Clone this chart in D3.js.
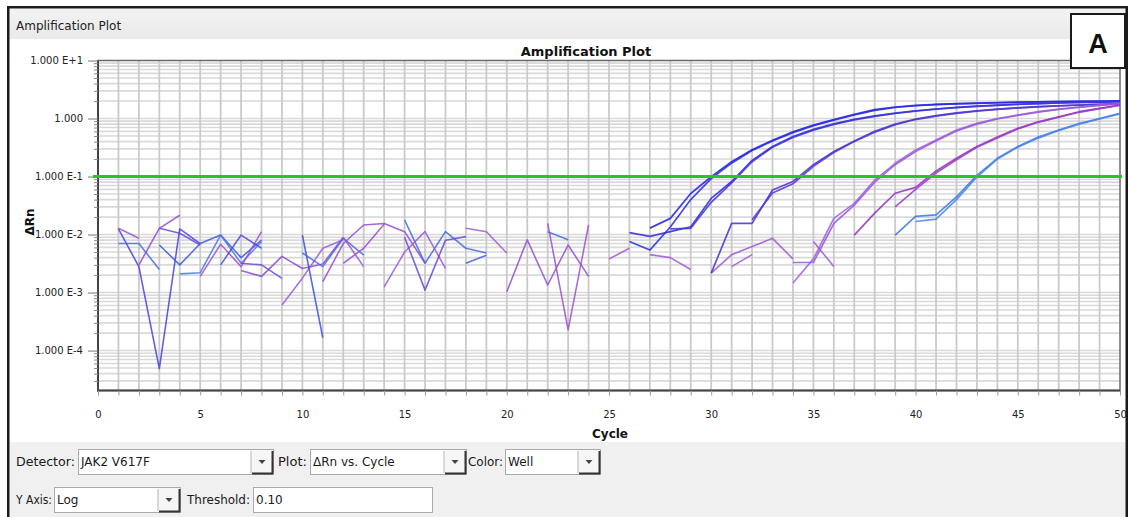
<!DOCTYPE html>
<html><head><meta charset="utf-8">
<script src="https://cdn.jsdelivr.net/npm/d3@7"></script>
<style>
body{margin:0;background:#fff;overflow:hidden;}
svg{display:block;font-family:"DejaVu Sans",sans-serif;}
</style></head><body>
<svg id="chart" width="1128" height="517"></svg>
<script>
// ---------------- data ----------------
const xTickValues = [0,5,10,15,20,25,30,35,40,45,50];
const yTickValues = [10,1,0.1,0.01,0.001,0.0001];
const yTickLabels = ["1.000 E+1","1.000","1.000 E-1","1.000 E-2","1.000 E-3","1.000 E-4"];
const thresholdValue = 0.10;
const yDomain = [2.05e-5, 10];
const xDomain = [0, 50];

// baseline (noise) well traces: start cycle + ΔRn values per cycle
const n01 = {start:1,  values:[0.0128,0.0086]};
const n02 = {start:1,  values:[0.0125,0.0028,0.000049,0.0125,0.0070]};
const n03 = {start:1,  values:[0.0070,0.0070,0.0025]};
const n04 = {start:2,  values:[0.0030,0.0128,0.0215]};
const n05 = {start:3,  values:[0.0128,0.0105,0.0066]};
const n06 = {start:3,  values:[0.0066,0.0030,0.0070,0.0098,0.0040,0.0080]};
const n07 = {start:4,  values:[0.0021,0.0022,0.0098,0.0032,0.0075]};
const n08 = {start:5,  values:[0.0019,0.0068,0.0028,0.0112]};
const n09 = {start:6,  values:[0.0030,0.0098,0.0058]};
const n10 = {start:7,  values:[0.0032,0.0030,0.00176]};
const n11 = {start:7,  values:[0.0024,0.0019,0.0042,0.0026,0.0031,0.0090]};
const n12 = {start:9,  values:[0.00061,0.00177,0.0058,0.0081]};
const n13 = {start:10, values:[0.0098,0.000165]};
const n14 = {start:10, values:[0.0048,0.0028,0.0086,0.0044]};
const n15 = {start:11, values:[0.00155,0.0070,0.0146,0.0155,0.0112,0.0032]};
const n16 = {start:12, values:[0.0032,0.0058,0.0150]};
const n17 = {start:12, values:[0.0090,0.0028]};
const n18 = {start:15, values:[0.0178,0.0032,0.0112,0.0058,0.0048]};
const n19 = {start:14, values:[0.00125,0.0050,0.0112,0.0026]};
const n20 = {start:15, values:[0.0090,0.0011,0.0080,0.0092]};
const n21 = {start:18, values:[0.0032,0.0044]};
const n22 = {start:18, values:[0.0128,0.0112,0.0048]};
const n23 = {start:20, values:[0.00103,0.0081,0.00135,0.0066,0.0019]};
const n24 = {start:22, values:[0.0156,0.000228,0.0146]};
const n25 = {start:22, values:[0.0112,0.0081]};
const n26 = {start:25, values:[0.0038,0.0058]};
const n27 = {start:27, values:[0.0045,0.0040,0.0025]};
const n28 = {start:30, values:[0.00216,0.0045,0.0062,0.0086,0.0038]};
const n29 = {start:31, values:[0.0028,0.0045]};
const n30 = {start:35, values:[0.0076,0.0028]};

// amplification well traces
const c1a = {start:27, values:[0.0129,0.019,0.051,0.099,0.18,0.29,0.42,0.59,0.77,0.96,1.18,1.42,1.58,1.68,1.75,1.80,1.84,1.88,1.91,1.94,1.96,1.98,1.99,2.01]};
const c1b = {start:26, values:[0.0076,0.0054,0.0135,0.040,0.092,0.17,0.28,0.41,0.57,0.75,0.94,1.15,1.38,1.55,1.66,1.74,1.79,1.83,1.87,1.90,1.93,1.95,1.97,1.98,2.0]};
const c2a = {start:26, values:[0.0108,0.0093,0.0112,0.0136,0.042,0.082,0.19,0.33,0.49,0.65,0.81,0.97,1.11,1.24,1.36,1.46,1.55,1.63,1.70,1.76,1.81,1.85,1.89,1.92,1.95]};
const c2b = {start:28, values:[0.0125,0.0128,0.036,0.078,0.18,0.32,0.47,0.63,0.79,0.95,1.09,1.22,1.34,1.45,1.54,1.62,1.69,1.75,1.80,1.85,1.89,1.92,1.95]};
const c3a = {start:30, values:[0.00216,0.0156,0.0156,0.0586,0.082,0.16,0.27,0.41,0.60,0.80,0.98,1.12,1.25,1.36,1.45,1.53,1.60,1.66,1.71,1.76,1.80]};
const c3b = {start:32, values:[0.018,0.052,0.075,0.15,0.26,0.40,0.58,0.78,0.96,1.10,1.23,1.34,1.44,1.52,1.59,1.65,1.70,1.75,1.79]};
const c4a = {start:34, values:[0.00146,0.0038,0.019,0.0345,0.087,0.169,0.286,0.425,0.634,0.826,1.0,1.15,1.31,1.45,1.58,1.70,1.80]};
const c4b = {start:34, values:[0.0033,0.0033,0.0155,0.032,0.080,0.16,0.27,0.41,0.61,0.80,0.98,1.13,1.29,1.43,1.56,1.68,1.78]};
const c5a = {start:37, values:[0.0098,0.0234,0.0515,0.065,0.125,0.206,0.33,0.48,0.68,0.88,1.07,1.31,1.50,1.71]};
const c5b = {start:39, values:[0.030,0.060,0.115,0.195,0.32,0.46,0.66,0.86,1.05,1.28,1.48,1.69]};
const c6a = {start:39, values:[0.0098,0.0205,0.0218,0.0447,0.105,0.206,0.33,0.48,0.63,0.82,1.0,1.23]};
const c6b = {start:40, values:[0.0168,0.0185,0.040,0.098,0.20,0.32,0.46,0.62,0.80,0.98,1.20]};

const noiseTraces = [n01,n02,n03,n04,n05,n06,n07,n08,n09,n10,n11,n12,n13,n14,n15,n16,n17,n18,n19,n20,n21,n22,n23,n24,n25,n26,n27,n28,n29,n30];
const noiseColors = ["#9a58d8","#4b3fe0","#3f6fe0","#9050d0","#6a48d8","#3a5ae0","#4a7ae8","#a050d0","#4a4ae0","#5a50d8",
                     "#8a4cd0","#9a5ad8","#3b4de0","#4a6ae0","#8e4ed6","#9a50d0","#9858d8","#3f6ae0","#9a5ad8","#6a48d8",
                     "#4a5ae0","#9a5ad8","#9050d0","#a050d0","#4a6ae0","#9a58d8","#9a58d8","#9a58d8","#9a58d8","#9a58d8"];
const ampTraces = [c1a,c1b,c2a,c2b,c3a,c3b,c4a,c4b,c5a,c5b,c6a,c6b];
const ampColors = ["#1f1fe8","#2a2ae0","#3328d8","#3a34dc","#4a2fd0","#5236d4","#a060e0","#9858d8","#8f2fc0","#9a3ac8","#3a78e8","#4a84e8"];

// ---------------- drawing ----------------
const svg = d3.select("#chart");
const W = 1128, H = 517;

svg.append("rect").attr("x",0).attr("y",0).attr("width",W).attr("height",H).attr("fill","#fff");
const hdrGrad = svg.append("defs").append("linearGradient").attr("id","hdr").attr("x1",0).attr("y1",0).attr("x2",0).attr("y2",1);
hdrGrad.append("stop").attr("offset","0%").attr("stop-color","#f3f3f3");
hdrGrad.append("stop").attr("offset","100%").attr("stop-color","#e9e9e9");
svg.append("rect").attr("x",9).attr("y",9).attr("width",1117).attr("height",30).attr("fill","url(#hdr)");
svg.append("text").attr("x",16).attr("y",30).attr("font-size",12).attr("fill","#222").text("Amplification Plot");
svg.append("rect").attr("x",9).attr("y",442).attr("width",1117).attr("height",80).attr("fill","#f0f0f0");

const x = d3.scaleLinear().domain(xDomain).range([98,1120]);
const y = d3.scaleLog().domain(yDomain).range([390.5,60.5]);
const [x0,x1] = x.range(), [yb,yt] = y.range();

// grid
const g = svg.append("g");
const minorVals = [];
for (let e=-5;e<=0;e++) for (let k=1;k<=9;k++){ const v=k*Math.pow(10,e); if(v>yDomain[0] && v<yDomain[1]) minorVals.push(v); }
g.selectAll("line.hg").data(minorVals).enter().append("line")
  .attr("x1",x0).attr("x2",x1).attr("y1",d=>y(d)).attr("y2",d=>y(d))
  .attr("stroke","#d9d9d9").attr("stroke-width",1.6);
g.selectAll("line.vg").data(d3.range(1,50)).enter().append("line")
  .attr("x1",d=>x(d)).attr("x2",d=>x(d)).attr("y1",yt).attr("y2",yb)
  .attr("stroke","#cacaca").attr("stroke-width",1.8);

// frame
svg.append("rect").attr("x",x0).attr("y",yt).attr("width",x1-x0).attr("height",yb-yt)
  .attr("fill","none").attr("stroke","#6a6a6a").attr("stroke-width",1.5);
svg.append("line").attr("x1",x0).attr("x2",x0).attr("y1",yt).attr("y2",yb+1).attr("stroke","#444").attr("stroke-width",2);
svg.append("line").attr("x1",x0-1).attr("x2",x1).attr("y1",yb).attr("y2",yb).attr("stroke","#444").attr("stroke-width",2);

// axes
const yAxis = d3.axisLeft(y).tickValues(yTickValues).tickSize(10).tickFormat((d,i)=>yTickLabels[i]);
const ya = svg.append("g").attr("transform",`translate(${x0},0)`).call(yAxis);
ya.select(".domain").remove();
ya.selectAll("line").attr("stroke","#777");
ya.selectAll("text").attr("font-size",10).attr("fill","#222").attr("font-family","DejaVu Sans").attr("dx",-2);
const yMinor = d3.axisLeft(y).tickValues(minorVals.filter(v=>!yTickValues.includes(v))).tickSize(4).tickFormat("");
const ym = svg.append("g").attr("transform",`translate(${x0},0)`).call(yMinor);
ym.select(".domain").remove(); ym.selectAll("line").attr("stroke","#888");

const xMinor = d3.axisBottom(x).tickValues(d3.range(0,51)).tickSize(5).tickFormat("");
const xm = svg.append("g").attr("transform",`translate(0,${yb})`).call(xMinor);
xm.select(".domain").remove(); xm.selectAll("line").attr("stroke","#999");
const xAxis = d3.axisBottom(x).tickValues(xTickValues).tickSize(0).tickPadding(20).tickFormat(d3.format("d"));
const xa = svg.append("g").attr("transform",`translate(0,${yb})`).call(xAxis);
xa.select(".domain").remove();
xa.selectAll("text").attr("font-size",10).attr("fill","#222").attr("font-family","DejaVu Sans");

// titles
svg.append("text").attr("x",586).attr("y",56).attr("text-anchor","middle")
  .attr("font-size",13).attr("font-weight","bold").attr("fill","#111").text("Amplification Plot");
svg.append("text").attr("x",610).attr("y",438).attr("text-anchor","middle")
  .attr("font-size",12).attr("font-weight","bold").attr("fill","#111").text("Cycle");
svg.append("text").attr("transform","translate(34,222) rotate(-90)").attr("text-anchor","middle")
  .attr("font-size",12).attr("font-weight","bold").attr("fill","#111").text("ΔRn");

// traces
svg.append("clipPath").attr("id","plotclip").append("rect")
  .attr("x",x0).attr("y",yt).attr("width",x1-x0).attr("height",yb-yt);
const line = d3.line().defined(d=>d[1]!=null && d[1]>0).x(d=>x(d[0])).y(d=>y(d[1]));
const toPts = t => t.values.map((v,i)=>[t.start+i, v]);
const tg = svg.append("g").attr("clip-path","url(#plotclip)");
tg.selectAll("path.noise").data(noiseTraces).enter().append("path")
  .attr("d",d=>line(toPts(d))).attr("fill","none")
  .attr("stroke",(d,i)=>noiseColors[i]).attr("stroke-width",1.6).attr("stroke-opacity",0.85)
  .attr("stroke-linejoin","round");
tg.selectAll("path.amp").data(ampTraces).enter().append("path")
  .attr("d",d=>line(toPts(d))).attr("fill","none")
  .attr("stroke",(d,i)=>ampColors[i]).attr("stroke-width",1.7).attr("stroke-opacity",0.85)
  .attr("stroke-linejoin","round");

// threshold
svg.append("line").attr("x1",x0-5).attr("x2",x1+2).attr("y1",y(thresholdValue)).attr("y2",y(thresholdValue))
  .attr("stroke","#1ecc1e").attr("stroke-width",3);

// panel label "A"
svg.append("rect").attr("x",1071).attr("y",14).attr("width",54).attr("height",54)
  .attr("fill","#fff").attr("stroke","#1a1a1a").attr("stroke-width",2);
svg.append("text").attr("x",1098).attr("y",53).attr("text-anchor","middle")
  .attr("font-size",27).attr("font-weight","bold").attr("font-family","Liberation Sans, Arial").attr("fill","#111").text("A");

// controls
const ctl = svg.append("g").attr("font-size",12).attr("fill","#1a1a1a");
function label(xp, yp, t, len){
  const el = ctl.append("text").attr("x",xp).attr("y",yp).attr("fill","#1a1a1a").text(t);
  if (len) el.attr("textLength",len).attr("lengthAdjust","spacingAndGlyphs");
}
function combo(xp, yp, w, t, btn){
  ctl.append("rect").attr("x",xp+0.5).attr("y",yp+0.5).attr("width",w).attr("height",25)
    .attr("fill","#fff").attr("stroke","#a9a9a9");
  ctl.append("text").attr("x",xp+3).attr("y",yp+17).attr("fill","#1a1a1a").text(t);
  if (btn){
    const bx = xp+w-22;
    ctl.append("rect").attr("x",bx).attr("y",yp+1).attr("width",22).attr("height",24).attr("fill","#f6f6f6");
    ctl.append("line").attr("x1",bx).attr("x2",bx).attr("y1",yp+2).attr("y2",yp+24).attr("stroke","#b5b5b5");
    ctl.append("line").attr("x1",bx+1).attr("x2",xp+w).attr("y1",yp+24.5).attr("y2",yp+24.5).attr("stroke","#333").attr("stroke-width",2);
    ctl.append("line").attr("x1",xp+w-0.5).attr("x2",xp+w-0.5).attr("y1",yp+2).attr("y2",yp+25).attr("stroke","#333").attr("stroke-width",2);
    ctl.append("path").attr("d",`M${bx+7.5},${yp+11} L${bx+14.5},${yp+11} L${bx+11},${yp+15} Z`).attr("fill","#444");
  }
}
label(16,466,"Detector:",59);
combo(78,449,195,"JAK2 V617F",true);
label(278,466,"Plot:",29);
combo(310,449,156,"ΔRn vs. Cycle",true);
label(468,466,"Color:",35);
combo(505,449,95,"Well",true);
label(16,504,"Y Axis:",36);
combo(54,487,126,"Log",true);
label(187,504,"Threshold:",63);
combo(253,487,179,"0.10",false);

// outer border
svg.append("rect").attr("x",8.25).attr("y",7.25).attr("width",1118.5).attr("height",520)
  .attr("fill","none").attr("stroke","#1a1a1a").attr("stroke-width",2.5);
</script>
</body></html>
